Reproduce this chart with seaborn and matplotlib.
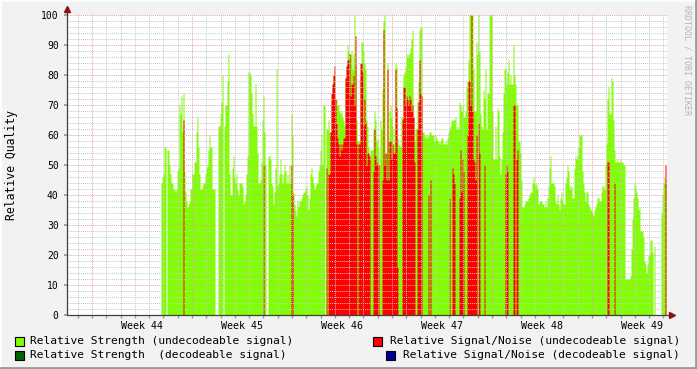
import numpy as np
import pandas as pd
import matplotlib
matplotlib.use("Agg")
import matplotlib.pyplot as plt
import seaborn as sns
from matplotlib.patches import Rectangle
from matplotlib.lines import Line2D

# ---------------- data (one sample per ~100 minutes) ----------------
first_sample_day = 4.83      # days after Monday of week 44
sample_step_day = 0.07

strength_1 = [44,46,47,56,56,0,55,55,50,47,
              44,44,42,42,41,42,48,49,70,67,
              73,61,74,48,41,38,36,37,38,42,
              42,47,47,51,51,61,66,56,47,42,
              42,43,44,44,47,49,50,55,60,56,
              56,42,42,42,0,0,0,63,63,67,
              71,80]
snr_1 = [0,0,0,0,0,0,0,0,0,0,
         0,0,0,0,0,0,0,0,0,0,
         0,0,65,0,0,0,0,0,0,0,
         0,0,0,0,0,0,0,0,0,0,
         0,0,0,0,0,0,0,0,0,0,
         0,0,0,0,0,0,0,0,0,0,
         0,0]

strength_2 = [0,63,70,70,78,87,47,40,40,49,
              53,46,44,47,42,40,44,44,44,43,
              37,38,40,47,53,81,81,80,74,67,
              63,63,77,63,54,44,44,45,51,65,
              73,61,50,0,0,53,53,52,44,43,
              37,41,49,82,43,44,47,52,47,44,
              47,50,48]
snr_2 = [0,0,0,0,0,0,0,0,0,0,
         0,0,0,0,0,0,0,0,0,0,
         0,0,0,0,0,0,0,0,0,0,
         0,0,0,0,0,0,0,0,0,0,
         50,0,0,0,0,0,0,0,0,0,
         0,0,0,0,0,0,0,0,0,0,
         0,0,0]

strength_3 = [44,47,44,50,44,67,60,41,37,35,
              33,38,36,38,38,39,40,41,41,42,
              43,40,35,39,47,49,46,44,42,43,
              44,44,48,50,55,60,50,70,70,0,
              62,62,65,61,61,70,77,80,80,72,
              72,70,70,68,67,68,66,65,63,79,
              83,90,88,87]
snr_3 = [0,0,0,0,0,50,40,0,0,0,
         0,0,0,0,0,0,0,0,0,0,
         0,0,0,0,0,0,0,0,0,0,
         0,0,0,0,0,0,0,0,0,0,
         49,0,47,47,61,74,77,80,83,72,
         64,59,57,53,57,55,57,59,59,79,
         83,85,85,87]

strength_4 = [87,88,82,87,100,83,65,58,58,58,
              79,91,91,88,84,82,65,63,56,52,
              55,55,55,62,68,65,58,59,56,50,
              65,62,75,98,100,54,54,84,58,68,
              70,66,63,57,62,84,83,59,57,56,
              56,66,66,80,81,83,87,86,87,87,
              89,92,95,66]
snr_4 = [73,77,77,80,70,93,57,0,57,57,
         84,84,81,63,72,64,50,54,54,53,
         0,0,0,48,62,53,50,51,50,0,
         0,0,45,95,50,54,45,82,45,58,
         58,52,57,54,54,82,69,16,0,0,
         0,0,65,76,76,70,73,72,70,73,
         72,68,70,66]

strength_5 = [58,62,62,71,78,95,96,96,61,61,
              60,59,60,59,60,61,61,60,60,60,
              58,60,59,58,58,57,58,59,59,57,
              57,58,57,59,61,62,63,65,65,65,
              65,66,62,63,62,71,70,68,70,66,
              66,68,76,78,85,100,100,100,100,82,
              68,68,91,87]
snr_5 = [51,0,0,62,71,85,74,73,0,0,
         0,0,0,0,40,0,45,0,0,0,
         0,0,0,0,0,0,0,0,0,0,
         0,0,0,0,0,39,0,0,49,47,
         44,0,0,0,0,39,55,41,52,48,
         0,0,0,60,78,78,70,100,68,52,
         51,45,60,0]

strength_6 = [100,88,67,63,62,75,72,82,62,74,
              74,100,100,100,68,52,52,63,52,69,
              68,53,47,52,61,74,82,82,77,81,
              85,77,80,77,77,90,80,77,70,70,
              58,58,54,45,36,36,37,38,38,38,
              39,40,41,41,44,46,44,43,44,42,
              37,38,38,38]
snr_6 = [64,54,0,0,0,0,50,0,0,0,
         0,0,0,0,0,0,0,0,0,0,
         0,0,0,0,0,0,0,47,50,48,
         0,0,0,0,0,70,70,0,52,55,
         0,0,0,0,0,0,0,0,0,0,
         0,0,0,0,0,0,0,0,0,0,
         0,0,0,0]

strength_7 = [37,37,36,38,36,39,43,49,53,44,
              44,44,43,38,37,40,37,35,39,41,
              38,37,37,44,46,50,48,43,42,43,
              39,39,49,53,52,53,56,60,60,60,
              48,44,41,38,41,41,37,36,35,35,
              34,33,35,36,37,39,39,38,38,41,
              43,43,42,50]
snr_7 = [0,0,0,0,0,0,0,0,0,0,
         0,0,0,0,0,0,0,0,0,0,
         0,0,0,0,0,0,0,0,0,0,
         0,0,0,0,0,0,0,0,0,0,
         0,0,0,0,0,0,0,0,0,0,
         0,0,0,0,0,0,0,0,0,0,
         0,0,0,0]

strength_8 = [57,72,76,67,67,79,78,65,55,51,
              51,52,51,51,52,51,51,50,50,12,
              12,12,12,12,13,22,32,39,44,43,
              41,39,35,36,28,28,28,26,18,17,
              14,17,20,20,25,25,21,0,23,0,
              0,0,0,0,0,34,40,44,46,44]
snr_8 = [0,51,51,0,0,0,0,0,44,0,
         0,0,0,0,0,0,0,0,0,0,
         0,0,0,0,0,0,0,0,0,0,
         0,0,0,0,0,0,0,0,0,0,
         0,0,0,0,0,0,0,0,0,0,
         0,0,0,0,0,0,0,0,0,50]

week_numbers = [44, 45, 46, 47, 48, 49]
week_labels = [f"Week {w}" for w in week_numbers]
y_ticks = [0, 10, 20, 30, 40, 50, 60, 70, 80, 90, 100]

legend_left = ["Relative Strength (undecodeable signal)",
               "Relative Strength  (decodeable signal)"]
legend_right = ["Relative Signal/Noise (undecodeable signal)",
                "Relative Signal/Noise (decodeable signal)"]

GREEN = "#80FF00"
DKGREEN = "#006600"
RED = "#FF0000"
BLUE = "#000099"
BG = "#F2F2F2"
MINOR = "#c8c8c8"
MAJOR = "#e3a3a3"
ARROW = "#8b1010"

# ---------------- build ----------------
strength = np.array(strength_1 + strength_2 + strength_3 + strength_4 +
                    strength_5 + strength_6 + strength_7 + strength_8, float)
snr = np.array(snr_1 + snr_2 + snr_3 + snr_4 + snr_5 + snr_6 + snr_7 + snr_8, float)
n = len(strength)
day = first_sample_day + np.arange(n) * sample_step_day
df = pd.DataFrame({"day": day, "strength": strength, "snr": snr})
brange = (float(day[0]), float(day[-1] + sample_step_day))

sns.set_theme(style="white")
plt.rcParams["font.family"] = ["DejaVu Sans Mono"]

W, H = 697, 369
fig = plt.figure(figsize=(W / 100, H / 100), dpi=100, facecolor=BG)
ax = fig.add_axes([67 / W, 1 - 315 / H, 600 / W, 300 / H])
ax.set_facecolor("white")

sns.histplot(data=df, x="day", weights="strength", bins=n, binrange=brange,
             element="step", fill=True, color=GREEN, alpha=1, linewidth=0,
             ax=ax, zorder=1)
sns.histplot(data=df, x="day", weights="snr", bins=n, binrange=brange,
             element="step", fill=True, color=RED, alpha=1, linewidth=0,
             ax=ax, zorder=2)

x0, x1 = -1.75, 40.25
ax.set_xlim(x0, x1)
ax.set_ylim(0, 100)

# grid (drawn over the data like rrdtool)
for v in range(2, 100, 2):
    if v % 10:
        ax.axhline(v, color=MINOR, lw=0.7, ls=(0, (1, 1)), zorder=3)
for v in range(10, 101, 10):
    ax.axhline(v, color=MAJOR, lw=0.7, ls=(0, (1, 1)), zorder=4)
for d in range(-1, 41):
    if d % 7:
        ax.axvline(d, color=MINOR, lw=0.7, ls=(0, (1, 1)), zorder=3)
for d in range(0, 41, 7):
    ax.axvline(d, color=MAJOR, lw=0.7, ls=(0, (1, 1)), zorder=4)

for s in ax.spines.values():
    s.set_visible(False)

# axes lines with arrows
ax.plot([0, 0], [0, 1.02], transform=ax.transAxes, color="#404040", lw=0.9,
        clip_on=False, zorder=6)
ax.plot([0, 1.008], [0, 0], transform=ax.transAxes, color="#404040", lw=0.9,
        clip_on=False, zorder=6)
ax.plot([0], [1.02], marker="^", ms=4, color=ARROW, transform=ax.transAxes,
        clip_on=False, zorder=7)
ax.plot([1.008], [0], marker=">", ms=4, color=ARROW, transform=ax.transAxes,
        clip_on=False, zorder=7)

ax.set_yticks(y_ticks)
ax.set_yticklabels([str(v) for v in y_ticks], fontsize=7)
ax.set_xticks([3.5 + 7 * k for k in range(len(week_labels))])
ax.set_xticklabels(week_labels, fontsize=7.2)
ax.set_xticks(list(range(-1, 41)), minor=True)
ax.tick_params(axis="x", which="major", length=0, pad=4, colors="black")
ax.tick_params(axis="x", which="minor", length=2, color="#999999", bottom=True)
ax.tick_params(axis="y", which="major", length=2, color="#999999", pad=4,
               left=True, labelcolor="black")
ax.set_xlabel("")
ax.set_ylabel("")

# y axis title
fig.text(12 / W, 1 - 165 / H, "Relative Quality", rotation=90, fontsize=8.3,
         ha="center", va="center", color="black")
# watermark
fig.text(687 / W, 1 - 60 / H, "RRDTOOL / TOBI OETIKER", rotation=270,
         fontsize=6, ha="center", va="center", color="#b4b4b4")

# legend
def swatch(px, py, color):
    fig.add_artist(Rectangle((px / W, 1 - (py + 9) / H), 9 / W, 9 / H,
                             facecolor=color, edgecolor="black", lw=0.8,
                             transform=fig.transFigure))

rows_y = [341, 355]
for i, (lab, col) in enumerate(zip(legend_left, [GREEN, DKGREEN])):
    swatch(15, rows_y[i] - 4.5, col)
    fig.text(30 / W, 1 - rows_y[i] / H, lab, fontsize=8.1, ha="left",
             va="center", color="black")
for i, (lab, col) in enumerate(zip(legend_right, [RED, BLUE])):
    fig.text(680 / W, 1 - rows_y[i] / H, lab, fontsize=8.1, ha="right",
             va="center", color="black")
    nchar = len(lab)
    swatch(680 - nchar * 6.8 - 15, rows_y[i] - 4.5, col)

# 3d frame
fig.add_artist(Line2D([0, 1], [1 - 1 / H, 1 - 1 / H], color="#fdfdfd", lw=1.5,
                      transform=fig.transFigure))
fig.add_artist(Line2D([1 / W, 1 / W], [0, 1], color="#fdfdfd", lw=1.5,
                      transform=fig.transFigure))
fig.add_artist(Line2D([0, 1], [1.5 / H, 1.5 / H], color="#9a9a9a", lw=2,
                      transform=fig.transFigure))
fig.add_artist(Line2D([1 - 1.5 / W, 1 - 1.5 / W], [0, 1], color="#9a9a9a", lw=2,
                      transform=fig.transFigure))

fig.savefig("out.png", dpi=100, facecolor=BG)
